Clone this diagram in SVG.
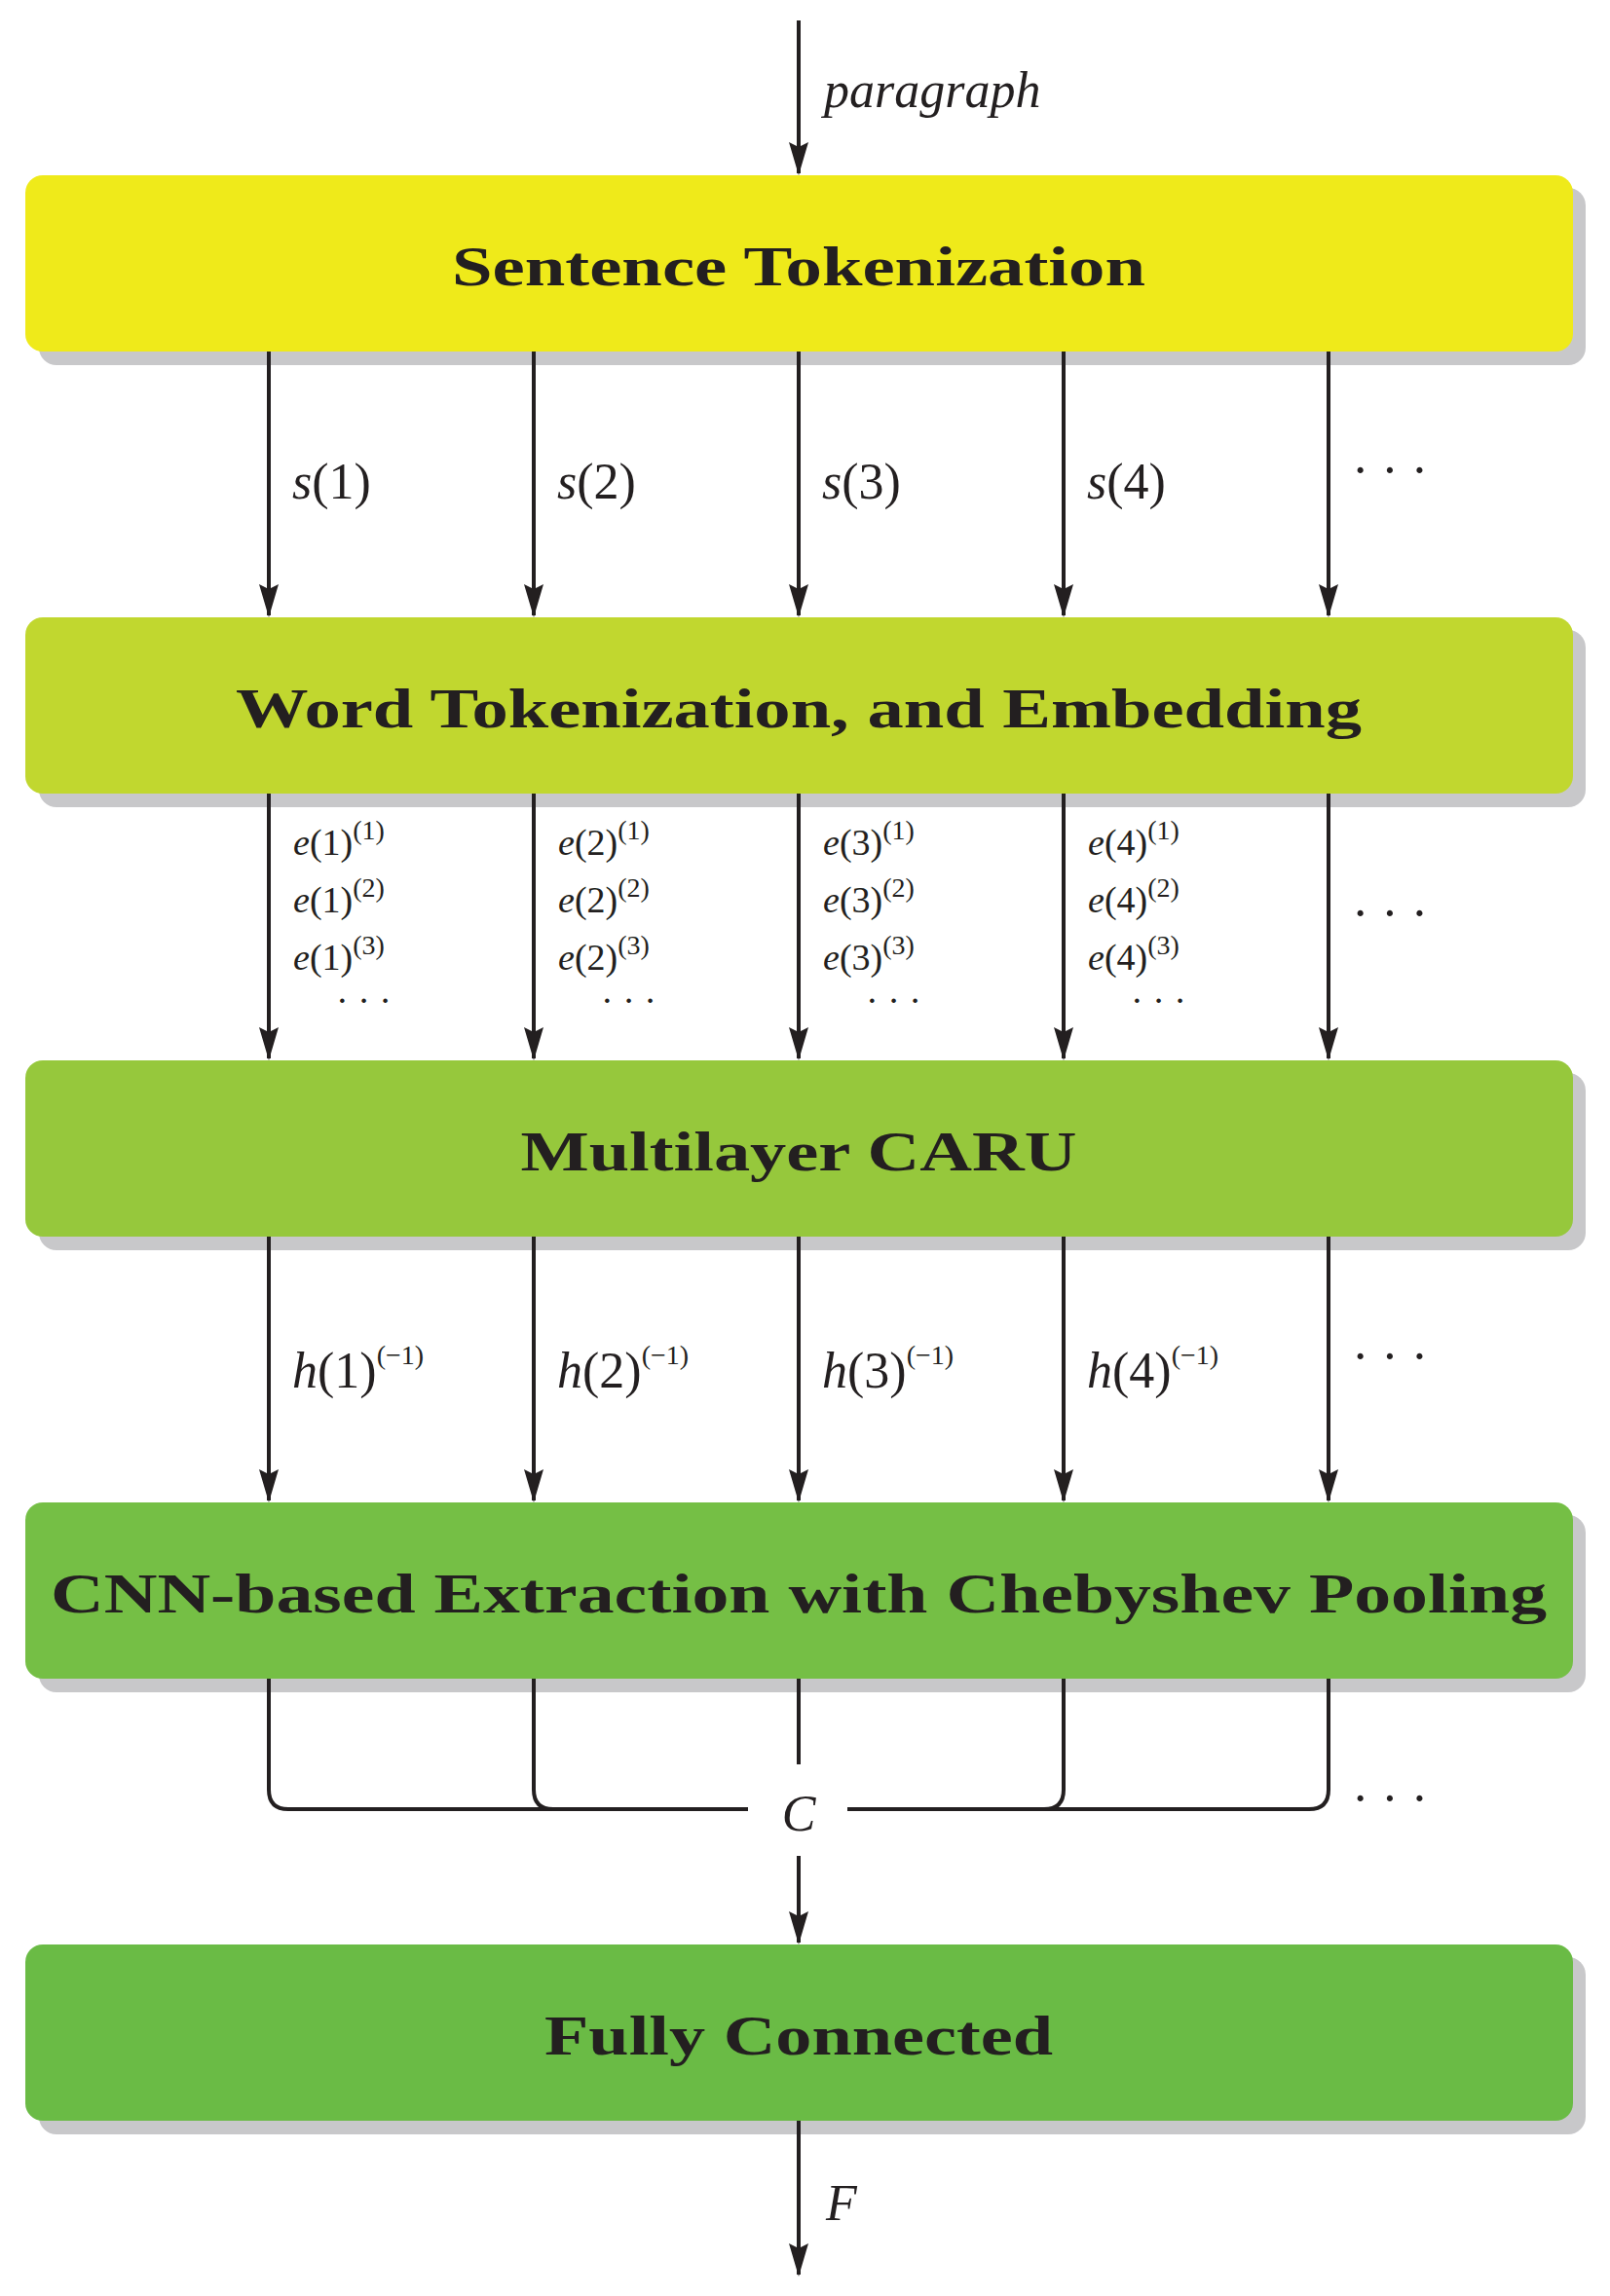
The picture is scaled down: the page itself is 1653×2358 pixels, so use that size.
<svg xmlns="http://www.w3.org/2000/svg" width="1653" height="2358" viewBox="0 0 1653 2358">
<style>
.sh{fill:#C8C8CA}
.t{font-family:"Liberation Serif",serif;font-weight:bold;font-size:58px;fill:#231F20;text-anchor:middle}
.m{font-family:"Liberation Serif",serif;font-size:52px;fill:#231F20}
.e{font-family:"Liberation Serif",serif;font-size:38px;fill:#231F20}
.sup{font-size:28px}
.i{font-style:italic}
.ln{stroke:#231F20;stroke-width:4;fill:none}
</style>
<defs>
<marker id="ah" markerUnits="userSpaceOnUse" markerWidth="20" markerHeight="34" refX="10" refY="32" orient="auto-start-reverse" viewBox="0 0 20 34">
<path d="M0,0 L10,6 L20,0 L10,34 Z" fill="#231F20" transform="rotate(0)"/>
</marker>
<marker id="ad" markerUnits="userSpaceOnUse" markerWidth="20" markerHeight="34" refX="10" refY="32" orient="0" viewBox="0 0 20 34">
<path d="M0,0 L10,5 L20,0 L10,34 Z" fill="#231F20"/>
</marker>
</defs>
<g id="n1"><rect class="sh" x="40" y="193" width="1588" height="182" rx="18"/><rect x="26" y="180" width="1589" height="181" rx="18" fill="#EFEA1A"/><text class="t" x="820" y="293" textLength="712" lengthAdjust="spacingAndGlyphs">Sentence Tokenization</text></g>
<g id="n2"><rect class="sh" x="40" y="647" width="1588" height="182" rx="18"/><rect x="26" y="634" width="1589" height="181" rx="18" fill="#C1D72F"/><text class="t" x="820" y="747" textLength="1156" lengthAdjust="spacingAndGlyphs">Word Tokenization, and Embedding</text></g>
<g id="n3"><rect class="sh" x="40" y="1102" width="1588" height="182" rx="18"/><rect x="26" y="1089" width="1589" height="181" rx="18" fill="#96C83C"/><text class="t" x="820" y="1202" textLength="571" lengthAdjust="spacingAndGlyphs">Multilayer CARU</text></g>
<g id="n4"><rect class="sh" x="40" y="1556" width="1588" height="182" rx="18"/><rect x="26" y="1543" width="1589" height="181" rx="18" fill="#75BF45"/><text class="t" x="820" y="1656" textLength="1536" lengthAdjust="spacingAndGlyphs">CNN-based Extraction with Chebyshev Pooling</text></g>
<g id="n5"><rect class="sh" x="40" y="2010" width="1588" height="182" rx="18"/><rect x="26" y="1997" width="1589" height="181" rx="18" fill="#6ABB45"/><text class="t" x="820" y="2110" textLength="522" lengthAdjust="spacingAndGlyphs">Fully Connected</text></g>
<g id="connectors">
<line class="ln" x1="820" y1="21" x2="820" y2="178" marker-end="url(#ad)"/>
<line class="ln" x1="276" y1="361" x2="276" y2="632" marker-end="url(#ad)"/>
<line class="ln" x1="548" y1="361" x2="548" y2="632" marker-end="url(#ad)"/>
<line class="ln" x1="820" y1="361" x2="820" y2="632" marker-end="url(#ad)"/>
<line class="ln" x1="1092" y1="361" x2="1092" y2="632" marker-end="url(#ad)"/>
<line class="ln" x1="1364" y1="361" x2="1364" y2="632" marker-end="url(#ad)"/>
<line class="ln" x1="276" y1="815" x2="276" y2="1087" marker-end="url(#ad)"/>
<line class="ln" x1="548" y1="815" x2="548" y2="1087" marker-end="url(#ad)"/>
<line class="ln" x1="820" y1="815" x2="820" y2="1087" marker-end="url(#ad)"/>
<line class="ln" x1="1092" y1="815" x2="1092" y2="1087" marker-end="url(#ad)"/>
<line class="ln" x1="1364" y1="815" x2="1364" y2="1087" marker-end="url(#ad)"/>
<line class="ln" x1="276" y1="1270" x2="276" y2="1541" marker-end="url(#ad)"/>
<line class="ln" x1="548" y1="1270" x2="548" y2="1541" marker-end="url(#ad)"/>
<line class="ln" x1="820" y1="1270" x2="820" y2="1541" marker-end="url(#ad)"/>
<line class="ln" x1="1092" y1="1270" x2="1092" y2="1541" marker-end="url(#ad)"/>
<line class="ln" x1="1364" y1="1270" x2="1364" y2="1541" marker-end="url(#ad)"/>
<path class="ln" d="M276,1724 V1838 Q276,1858 296,1858 H768"/>
<path class="ln" d="M548,1724 V1838 Q548,1858 568,1858"/>
<path class="ln" d="M1364,1724 V1838 Q1364,1858 1344,1858 H870"/>
<path class="ln" d="M1092,1724 V1838 Q1092,1858 1072,1858"/>
<line class="ln" x1="820" y1="1724" x2="820" y2="1812"/>
<line class="ln" x1="820" y1="1906" x2="820" y2="1995" marker-end="url(#ad)"/>
<line class="ln" x1="820" y1="2178" x2="820" y2="2336" marker-end="url(#ad)"/>
</g>
<g id="labels">
<text class="m i" x="846" y="110" font-size="50">paragraph</text>
<text class="m" x="300" y="512"><tspan class="i">s</tspan>(1)</text>
<text class="m" x="572" y="512"><tspan class="i">s</tspan>(2)</text>
<text class="m" x="844" y="512"><tspan class="i">s</tspan>(3)</text>
<text class="m" x="1116" y="512"><tspan class="i">s</tspan>(4)</text>
<text class="m" x="1388" y="500">· · ·</text>
<g class="e">
<text x="301" y="878"><tspan class="i">e</tspan>(1)<tspan class="sup" dy="-16">(1)</tspan></text>
<text x="301" y="937"><tspan class="i">e</tspan>(1)<tspan class="sup" dy="-16">(2)</tspan></text>
<text x="301" y="996"><tspan class="i">e</tspan>(1)<tspan class="sup" dy="-16">(3)</tspan></text>
<text x="345" y="1040">· · ·</text>
<text x="573" y="878"><tspan class="i">e</tspan>(2)<tspan class="sup" dy="-16">(1)</tspan></text>
<text x="573" y="937"><tspan class="i">e</tspan>(2)<tspan class="sup" dy="-16">(2)</tspan></text>
<text x="573" y="996"><tspan class="i">e</tspan>(2)<tspan class="sup" dy="-16">(3)</tspan></text>
<text x="617" y="1040">· · ·</text>
<text x="845" y="878"><tspan class="i">e</tspan>(3)<tspan class="sup" dy="-16">(1)</tspan></text>
<text x="845" y="937"><tspan class="i">e</tspan>(3)<tspan class="sup" dy="-16">(2)</tspan></text>
<text x="845" y="996"><tspan class="i">e</tspan>(3)<tspan class="sup" dy="-16">(3)</tspan></text>
<text x="889" y="1040">· · ·</text>
<text x="1117" y="878"><tspan class="i">e</tspan>(4)<tspan class="sup" dy="-16">(1)</tspan></text>
<text x="1117" y="937"><tspan class="i">e</tspan>(4)<tspan class="sup" dy="-16">(2)</tspan></text>
<text x="1117" y="996"><tspan class="i">e</tspan>(4)<tspan class="sup" dy="-16">(3)</tspan></text>
<text x="1161" y="1040">· · ·</text>
</g>
<text class="m" x="1388" y="955">· · ·</text>
<text class="m" x="300" y="1425"><tspan class="i">h</tspan>(1)<tspan class="sup" font-size="38" dy="-24">(−1)</tspan></text>
<text class="m" x="572" y="1425"><tspan class="i">h</tspan>(2)<tspan class="sup" font-size="38" dy="-24">(−1)</tspan></text>
<text class="m" x="844" y="1425"><tspan class="i">h</tspan>(3)<tspan class="sup" font-size="38" dy="-24">(−1)</tspan></text>
<text class="m" x="1116" y="1425"><tspan class="i">h</tspan>(4)<tspan class="sup" font-size="38" dy="-24">(−1)</tspan></text>
<text class="m" x="1388" y="1410">· · ·</text>
<text class="m i" x="820" y="1880" text-anchor="middle">C</text>
<text class="m" x="1388" y="1864">· · ·</text>
<text class="m i" x="848" y="2280">F</text>
</g>
</svg>
